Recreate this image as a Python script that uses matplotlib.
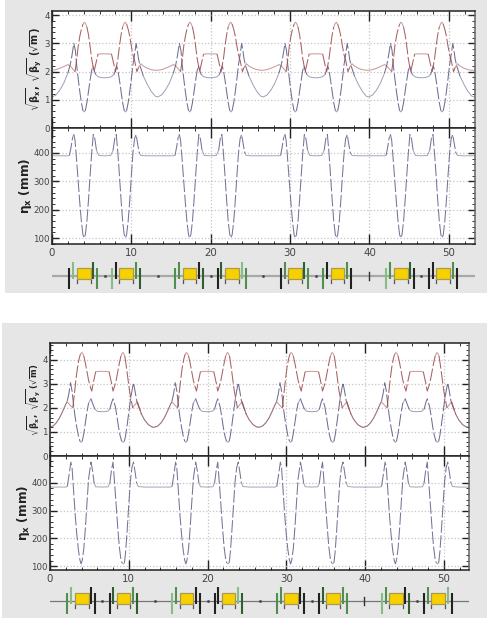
import numpy as np
import matplotlib
matplotlib.use('Agg')
import matplotlib.pyplot as plt
from matplotlib.patches import Rectangle
from matplotlib.ticker import MultipleLocator

W, H = 487, 621
CELL = 13.3
N_CELLS = 4

# one measured lattice cell, upper figure
top_bx_s = [0,0.5,1,1.5,2,2.3,2.5,2.75,2.95,3.1,3.3,3.5,3.7,3.9,4.05,4.2,4.4,4.6,4.8,5.0,5.15,5.3,5.5,5.8,6.2,6.65,7.1,7.5,7.8,8.0,8.15,8.3,8.5,8.7,8.9,9.1,9.25,9.4,9.6,9.8,10.0,10.2,10.4,10.6,10.75,10.9,11.1,11.5,12,12.5,13,13.3]
top_bx_v = [1.1,1.17,1.35,1.6,1.95,2.25,2.55,3.0,2.75,2.25,1.75,1.3,0.9,0.62,0.57,0.62,0.9,1.3,1.7,2.05,2.2,2.05,1.9,1.82,1.79,1.78,1.79,1.82,1.9,2.05,2.2,2.05,1.7,1.3,0.9,0.62,0.57,0.62,0.9,1.3,1.75,2.25,2.6,3.0,2.75,2.45,2.2,1.85,1.55,1.3,1.13,1.1]
top_by_s = [0,0.5,1,1.5,2,2.3,2.6,2.9,3.1,3.3,3.5,3.7,3.9,4.05,4.2,4.4,4.6,4.8,5.0,5.3,5.5,5.8,6.2,7.0,7.5,7.8,8.0,8.3,8.5,8.7,8.9,9.1,9.25,9.4,9.6,9.8,10.0,10.2,10.4,10.7,10.9,11.2,11.5,12,12.5,13,13.3]
top_by_v = [2.05,2.07,2.12,2.18,2.25,2.2,2.1,2.0,2.4,2.9,3.25,3.5,3.68,3.75,3.72,3.58,3.3,2.9,2.45,2.0,2.25,2.62,2.63,2.63,2.62,2.25,2.0,2.45,2.9,3.3,3.58,3.72,3.75,3.68,3.5,3.25,2.9,2.6,2.4,2.0,2.15,2.28,2.2,2.12,2.07,2.05,2.05]
top_eta_s = [0,1,2,2.2,2.4,2.6,2.75,2.9,3.1,3.3,3.5,3.7,3.9,4.05,4.2,4.4,4.6,4.8,5.0,5.2,5.4,5.6,5.9,6.65,7.4,7.7,7.9,8.1,8.3,8.5,8.7,8.9,9.1,9.25,9.4,9.6,9.8,10.0,10.2,10.4,10.6,10.8,11.0,11.2,12,13.3]
top_eta_v = [390,390,390,392,420,455,465,445,375,300,225,160,112,100,112,160,235,320,400,465,450,410,391,390,391,410,450,465,400,320,235,160,112,100,112,160,235,320,400,450,465,430,400,391,390,390]

# one measured lattice cell, lower figure
low_bx_s = [0,0.4,0.8,1.2,1.6,2,2.2,2.4,2.6,2.8,3.0,3.2,3.4,3.6,3.8,3.95,4.1,4.3,4.5,4.7,4.9,5.2,5.4,5.7,6,6.65,7.3,7.6,7.8,8.0,8.3,8.5,8.7,8.9,9.1,9.3,9.45,9.6,9.8,10,10.2,10.4,10.6,10.8,11,11.2,11.6,12,12.5,13,13.3]
low_bx_v = [1.2,1.25,1.38,1.58,1.85,2.15,2.3,2.6,3.05,2.7,2.1,1.6,1.2,0.85,0.62,0.57,0.62,0.95,1.4,1.85,2.2,2.38,2.2,1.95,1.86,1.84,1.86,1.95,2.2,2.38,2.05,1.65,1.2,0.85,0.62,0.57,0.62,0.85,1.3,1.8,2.3,2.7,3.05,2.7,2.3,2.1,1.75,1.5,1.3,1.2,1.2]
low_by_s = [0,0.4,0.8,1.2,1.6,2,2.2,2.6,2.9,3.1,3.3,3.5,3.7,3.85,4.0,4.15,4.3,4.5,4.7,4.9,5.1,5.3,5.5,5.8,6.2,7.0,7.5,7.8,8.0,8.2,8.4,8.6,8.8,9.0,9.2,9.35,9.5,9.7,9.9,10.1,10.3,10.5,10.7,11.1,11.6,12,12.5,13,13.3]
low_by_v = [1.2,1.25,1.38,1.58,1.85,2.15,2.25,2.1,2.0,2.6,3.2,3.7,4.05,4.22,4.3,4.27,4.15,3.85,3.5,3.15,2.9,2.7,3.05,3.5,3.52,3.52,3.5,3.05,2.7,2.9,3.15,3.5,3.85,4.15,4.3,4.27,4.15,3.7,3.2,2.7,2.35,2.0,2.1,2.25,1.75,1.5,1.3,1.2,1.2]
low_eta_s = [0,1,2,2.2,2.4,2.65,2.8,3.0,3.2,3.4,3.6,3.8,3.95,4.1,4.3,4.5,4.7,4.9,5.2,5.4,5.6,5.8,6.65,7.4,7.6,7.8,8.0,8.2,8.4,8.6,8.8,9.0,9.15,9.3,9.45,9.6,9.8,10,10.2,10.4,10.6,10.8,11,11.2,12,13.3]
low_eta_v = [385,385,385,388,425,475,455,370,285,215,160,122,108,122,165,240,330,415,475,445,400,386,385,386,400,445,475,400,320,240,170,125,112,108,112,150,230,320,405,455,475,440,400,387,385,385]

# lattice elements in one cell
dipoles = [(3.15, 4.9), (8.5, 10.2)]
quad_s = [2.2, 2.7, 5.2, 5.7, 7.6, 8.05, 10.6, 11.1]
quad_up = [False, True, True, False, False, True, True, False]
K, D, G, L = '#222222', '#2f5f2f', '#4f8f4f', '#86bd86'
top_quad_c = [[K,L,D,G,L,K,G,D],[G,G,K,D,K,D,L,G],[K,G,D,G,G,K,G,K],[L,G,D,K,K,K,G,K]]
low_quad_c = [[G,L,K,K,K,D,G,D],[L,G,K,K,K,K,L,D],[G,G,K,K,K,D,G,G],[L,G,K,D,K,G,L,K]]
dot_s = [6.65, 13.3, 20.0, 26.6, 33.25, 46.55]
mark_s = [39.9]

def tile(s, v):
    s = np.asarray(s, float); v = np.asarray(v, float)
    return (np.concatenate([s + i*CELL for i in range(N_CELLS)]),
            np.concatenate([v for _ in range(N_CELLS)]))

plt.rcParams['mathtext.fontset'] = 'dejavusans'
fig = plt.figure(figsize=(W/100, H/100), dpi=100, facecolor='white')

def px_axes(x0, y0, x1, y1):
    return fig.add_axes([x0/W, 1-y1/H, (x1-x0)/W, (y1-y0)/H])

BLUE = '#5f5f88'; RED = '#a04f4f'; ETA = '#66668c'

def style(ax, xmax, ymin, ymax, ymaj, ymin_step, xlab):
    ax.set_xlim(0, xmax); ax.set_ylim(ymin, ymax)
    ax.xaxis.set_major_locator(MultipleLocator(10))
    ax.xaxis.set_minor_locator(MultipleLocator(2))
    ax.yaxis.set_major_locator(MultipleLocator(ymaj))
    ax.yaxis.set_minor_locator(MultipleLocator(ymin_step))
    ax.grid(True, which='major', color='#c4c4c4', ls=':', lw=0.9)
    ax.tick_params(which='major', direction='in', top=True, right=True, length=5, width=1.0,
                   color='#222', labelcolor='#444', labelsize=6.2, pad=1.5)
    ax.tick_params(axis='x', which='major', length=7)
    ax.tick_params(which='minor', direction='in', top=True, right=True, length=2.5, width=0.7, color='#333')
    ax.tick_params(axis='x', labelbottom=xlab)
    for sp in ax.spines.values():
        sp.set_color('#222'); sp.set_linewidth(1.1)
    ax.spines['right'].set_color('#666')

def curve(ax, s, v, c):
    xs, ys = tile(s, v)
    xp = ax.transData.transform(np.column_stack([xs, ys]))
    slope = np.abs(np.diff(xp[:, 1])) / np.maximum(np.abs(np.diff(xp[:, 0])), 1e-6)
    steep = slope > 2.5
    i = 0
    while i < len(steep):
        j = i
        while j + 1 < len(steep) and steep[j + 1] == steep[i]:
            j += 1
        if steep[i]:
            ax.plot(xs[i:j+2], ys[i:j+2], color=c, lw=0.75, dashes=(12, 2.5), alpha=0.9)
        else:
            ax.plot(xs[i:j+2], ys[i:j+2], color=c, lw=0.7, alpha=0.6, solid_joinstyle='round')
        i = j + 1

def lattice(x0, x1, y, xmax, colours, line_c, line_w):
    ax = px_axes(x0, y-15, x1, y+15)
    ax.set_xlim(0, xmax); ax.set_ylim(-15, 15); ax.axis('off')
    ax.plot([0, xmax], [0, 0], color=line_c, lw=line_w, zorder=1)
    ax.plot(dot_s, [0]*len(dot_s), ls='none', marker='s', ms=0.9, color='#444', zorder=2)
    for s in mark_s:
        ax.plot([s, s], [-4, 4], color='#333', lw=1.0, zorder=2)
    for i in range(N_CELLS):
        off = i*CELL
        for a, b in dipoles:
            ax.add_patch(Rectangle((a+off, -3), b-a, 11, fc='#f7d000', ec='#a89a50', lw=0.9, zorder=3))
            for e in (a, b):
                ax.plot([e+off, e+off], [-7, -3], color='#555', lw=0.9, zorder=2)
        for s, up, c in zip(quad_s, quad_up, colours[i]):
            lo, hi = (-3, 14) if up else (-13, 8)
            ax.plot([s+off, s+off], [lo, hi], color=c, lw=1.5, zorder=4, solid_capstyle='butt')

def panel(x0, x1, ytop, ymid, ybot, xmax, bylim, etalim, bx, by, eta, by_size, by_x, eta_x, lat_y, colours, line_c, line_w):
    a1 = px_axes(x0, ytop, x1, ymid)
    style(a1, xmax, *bylim, 1, 0.2, False)
    curve(a1, *bx, BLUE); curve(a1, *by, RED)
    fig.text(by_x/W, 1-(ytop+ymid)/2/H, r'$\mathbf{\sqrt{\beta_x},\ \sqrt{\beta_y}\ (\sqrt{m})}$',
             rotation=90, ha='center', va='center', fontsize=by_size, color='#222')
    a2 = px_axes(x0, ymid, x1, ybot)
    style(a2, xmax, *etalim, 100, 20, True)
    curve(a2, *eta, ETA)
    fig.text(eta_x/W, 1-(ymid+ybot)/2/H, r'$\mathbf{\eta_x\ (mm)}$',
             rotation=90, ha='center', va='center', fontsize=8.8, color='#222')
    a2.tick_params(axis='x', labelsize=7.4, pad=3)
    lattice(x0, x1, lat_y, xmax, colours, line_c, line_w)

for x, y, w, h in [(5, 0, 482, 293), (2, 323, 485, 295)]:
    fig.add_artist(Rectangle((x/W, 1-(y+h)/H), w/W, h/H, transform=fig.transFigure,
                             fc='#e6e6e6', ec='none', zorder=-5))

panel(52, 475, 11, 128, 244, 53.3, (0, 4.15), (79, 488), (top_bx_s, top_bx_v), (top_by_s, top_by_v),
      (top_eta_s, top_eta_v), 7.0, 34, 25, 276, top_quad_c, '#a8a8a8', 1.6)
panel(50, 469, 343, 456, 570, 53.2, (0, 4.7), (86, 497), (low_bx_s, low_bx_v), (low_by_s, low_by_v),
      (low_eta_s, low_eta_v), 6.0, 33, 23, 601, low_quad_c, '#777777', 0.9)

fig.savefig('out.png', dpi=100, facecolor='white')
